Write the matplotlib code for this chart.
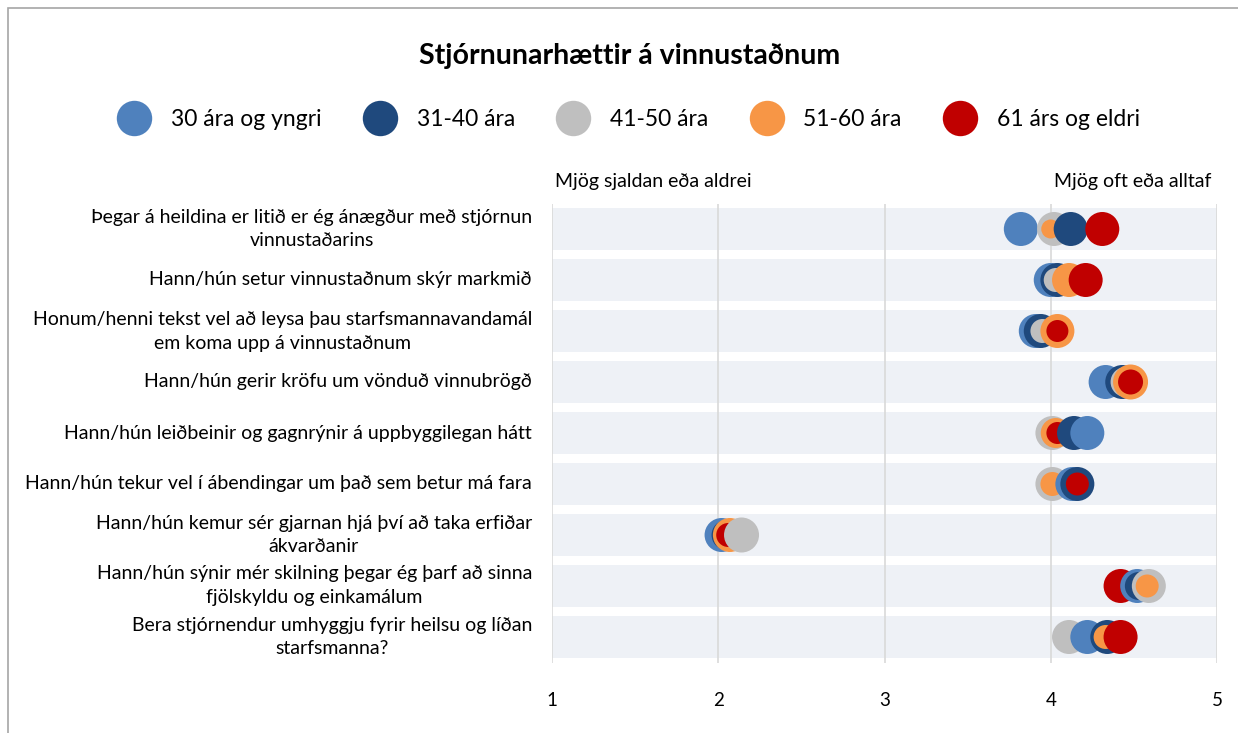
import matplotlib.pyplot as plt
from matplotlib.lines import Line2D
from matplotlib.patches import Rectangle

plt.rcParams['font.family'] = ['Lato', 'DejaVu Sans']

questions = [
    "Þegar á heildina er litið er ég ánægður með stjórnun\nvinnustaðarins",
    "Hann/hún setur vinnustaðnum skýr markmið",
    "Honum/henni tekst vel að leysa þau starfsmannavandamál\nem koma upp á vinnustaðnum",
    "Hann/hún gerir kröfu um vönduð vinnubrögð",
    "Hann/hún leiðbeinir og gagnrýnir á uppbyggilegan hátt",
    "Hann/hún tekur vel í ábendingar um það sem betur má fara",
    "Hann/hún kemur sér gjarnan hjá því að taka erfiðar\nákvarðanir",
    "Hann/hún sýnir mér skilning þegar ég þarf að sinna\nfjölskyldu og einkamálum",
    "Bera stjórnendur umhyggju fyrir heilsu og líðan\nstarfsmanna?",
]

groups = ["30 ára og yngri", "31-40 ára", "41-50 ára", "51-60 ára", "61 árs og eldri"]

age_30 = [3.82, 4.00, 3.91, 4.33, 4.22, 4.13, 2.02, 4.52, 4.22]
age_31_40 = [4.12, 4.04, 3.94, 4.43, 4.14, 4.16, 2.05, 4.53, 4.34]
age_41_50 = [4.02, 4.03, 3.95, 4.45, 4.01, 4.01, 2.14, 4.59, 4.11]
age_51_60 = [4.00, 4.11, 4.04, 4.48, 4.03, 4.01, 2.07, 4.58, 4.33]
age_61 = [4.31, 4.21, 4.04, 4.48, 4.04, 4.16, 2.06, 4.42, 4.42]

x_ticks = [1, 2, 3, 4, 5]

series = [age_30, age_31_40, age_41_50, age_51_60, age_61]
colors = ["#4F81BD", "#1F497D", "#BFBFBF", "#F79646", "#C00000"]

# marker diameter in pixels, per question and group
diam = [
    [34, 34, 34, 19, 34],
    [34, 34, 24, 34, 34],
    [34, 34, 24, 34, 22],
    [34, 34, 30, 35, 25],
    [34, 34, 34, 30, 22],
    [34, 34, 34, 24, 23],
    [34, 30, 35, 34, 24],
    [34, 28, 34, 23, 34],
    [34, 34, 34, 24, 34],
]

# stacking order of the bubbles in each row (higher = on top)
layer = [
    [0, 3, 1, 2, 4],
    [0, 1, 2, 3, 4],
    [0, 1, 2, 3, 4],
    [0, 1, 2, 3, 4],
    [4, 3, 0, 1, 2],
    [2, 3, 0, 1, 4],
    [0, 1, 4, 2, 3],
    [1, 2, 3, 4, 0],
    [1, 2, 0, 3, 4],
]

W, H = 1238, 733
fig = plt.figure(figsize=(W / 100, H / 100), dpi=100)

# outer chart border
fig.add_artist(Rectangle((8 / W, -0.1), 1.2, 1 - 8 / H + 0.1, transform=fig.transFigure,
                         fill=False, edgecolor="#A6A6A6", linewidth=1.2))

ax = fig.add_axes([552 / W, 1 - 662.5 / H, 665 / W, 459 / H])

rows = list(range(1, len(questions) + 1))

# background bands
ax.barh(rows, x_ticks[-1] - x_ticks[0], left=x_ticks[0], height=0.84,
        color="#EEF1F6", zorder=0)
for xv in x_ticks:
    ax.axvline(xv, color="#D9D9D9", linewidth=1.2, zorder=1)

for i, r in enumerate(rows):
    for j, vals in enumerate(series):
        d = diam[i][j] * 0.72
        ax.scatter(vals[i], r, s=d ** 2, color=colors[j], edgecolors="none",
                   zorder=2 + layer[i][j])

ax.set_xlim(1, 5)
ax.set_ylim(9.5, 0.5)
ax.set_xticks(x_ticks)
ax.set_xticklabels([str(t) for t in x_ticks], fontsize=13.5)
ax.set_yticks([])
ax.tick_params(axis="x", length=0, pad=21)
for s in ax.spines.values():
    s.set_visible(False)

for r, q in zip(rows, questions):
    ax.text(0.88, r, q, ha="right", va="center", multialignment="center",
            fontsize=14, linespacing=1.5, clip_on=False)

ax.text(1.02, 0.07, "Mjög sjaldan eða aldrei", ha="left", va="center", fontsize=14, clip_on=False)
ax.text(4.02, 0.07, "Mjög oft eða alltaf", ha="left", va="center", fontsize=14, clip_on=False)

fig.text(630 / W, 1 - 56 / H, "Stjórnunarhættir á vinnustaðnum", ha="center", va="center",
         fontsize=20.5, fontweight="bold")

handles = [Line2D([], [], linestyle="none", marker="o", markersize=25.5,
                  markerfacecolor=c, markeredgecolor="none") for c in colors]
fig.legend(handles, groups, loc="center", bbox_to_anchor=(628 / W, 1 - 120 / H), ncol=5,
           frameon=False, fontsize=16.5, handletextpad=0.8, columnspacing=1.75,
           handlelength=1.6)

fig.savefig("out.png", dpi=100)
